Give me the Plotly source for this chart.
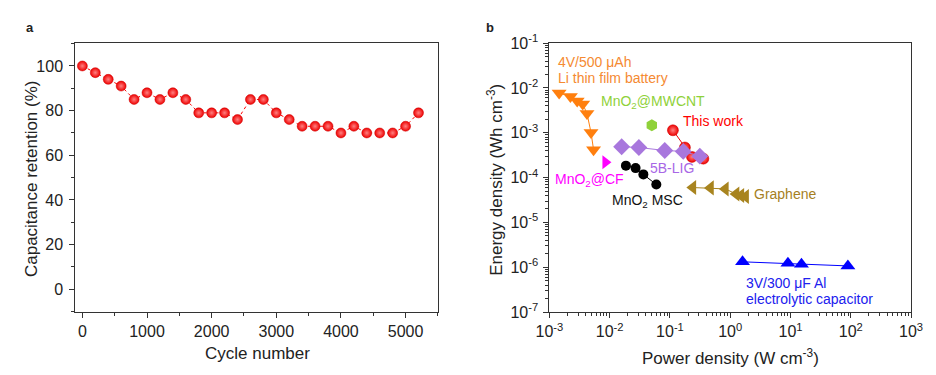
import plotly.graph_objects as go

# ---------- Panel a data ----------
cycles = [0, 200, 400, 600, 800, 1000, 1200, 1400, 1600, 1800, 2000, 2200, 2400,
          2600, 2800, 3000, 3200, 3400, 3600, 3800, 4000, 4200, 4400, 4600, 4800, 5000, 5200]
retention = [100, 97, 94, 91, 85, 88, 85, 88, 85, 79, 79, 79, 76,
             85, 85, 79, 76, 73, 73, 73, 70, 73, 70, 70, 70, 73, 79]

# ---------- Panel b data (Ragone) ----------
li_x = [0.00145, 0.00223, 0.00289, 0.00357, 0.0042, 0.0049, 0.0054]
li_y = [0.0077, 0.0065, 0.0051, 0.0044, 0.0027, 0.00102, 0.00042]
cf_x = [0.0085]
cf_y = [0.00022]
mw_x = [0.050]
mw_y = [0.00148]
tw_x = [0.112, 0.177, 0.232, 0.358]
tw_y = [0.00114, 0.00047, 0.00029, 0.000265]
lig_x = [0.0158, 0.0305, 0.082, 0.166, 0.313]
lig_y = [0.00049, 0.00047, 0.000403, 0.000385, 0.000301]
msc_x = [0.0186, 0.0269, 0.0362, 0.0594]
msc_y = [0.000185, 0.000163, 0.000118, 0.00007]
gr_x = [0.24, 0.47, 0.83, 1.25, 1.5, 1.8]
gr_y = [6.0e-5, 5.9e-5, 5.6e-5, 4.3e-5, 4.0e-5, 3.8e-5]
al_x = [1.6, 9.06, 15.2, 89.5]
al_y = [1.32e-6, 1.22e-6, 1.16e-6, 1.07e-6]

xb_tickvals = [1e-3, 1e-2, 1e-1, 1e0, 1e1, 1e2, 1e3]
xb_ticktext = ["10<sup>-3</sup>", "10<sup>-2</sup>", "10<sup>-1</sup>", "10<sup>0</sup>",
               "10<sup>1</sup>", "10<sup>2</sup>", "10<sup>3</sup>"]
yb_tickvals = [1e-7, 1e-6, 1e-5, 1e-4, 1e-3, 1e-2, 1e-1]
yb_ticktext = ["10<sup>-7</sup>", "10<sup>-6</sup>", "10<sup>-5</sup>", "10<sup>-4</sup>",
               "10<sup>-3</sup>", "10<sup>-2</sup>", "10<sup>-1</sup>"]

FONT = "Liberation Sans, Arial, sans-serif"
W, H = 936, 375

fig = go.Figure()

# Panel a
fig.add_trace(go.Scatter(
    x=cycles, y=retention, mode="lines+markers", xaxis="x", yaxis="y",
    line=dict(color="#FF0000", width=1, dash="dot"),
    marker=dict(size=10, color="#EE0000", line=dict(color="#CC0000", width=0.5),
                gradient=dict(type="radial", color="#FF8080")),
    showlegend=False))

# Panel b
def add_b(x, y, symbol, color, size, line=True, gradient=None, lcolor=None):
    m = dict(symbol=symbol, size=size, color=color, line=dict(width=0))
    if gradient:
        m["gradient"] = dict(type="radial", color=gradient)
        m["line"] = dict(color="#CC0000", width=0.5)
    fig.add_trace(go.Scatter(
        x=x, y=y, mode="lines+markers" if line else "markers",
        xaxis="x2", yaxis="y2",
        line=dict(color=lcolor or color, width=1),
        marker=m, showlegend=False))

add_b(li_x, li_y, "triangle-down", "#FF7F0E", 13)
add_b(cf_x, cf_y, "triangle-right", "#FF00FF", 12, line=False)
add_b(mw_x, mw_y, "hexagon", "#8FD13A", 12, line=False)
add_b(msc_x, msc_y, "circle", "#000000", 10)
add_b(gr_x, gr_y, "triangle-left", "#A8841F", 13)
add_b(al_x, al_y, "triangle-up", "#0000FF", 13)
add_b(tw_x, tw_y, "circle", "#EE0000", 11, gradient="#FF8080")
add_b(lig_x, lig_y, "diamond", "#A877DD", 13)

axis_common = dict(showline=True, linecolor="#333333", linewidth=1, mirror=True,
                   ticks="outside", ticklen=5, tickwidth=1, tickcolor="#333333",
                   showgrid=False, zeroline=False,
                   tickfont=dict(family=FONT, size=16, color="#222222"))

fig.update_layout(
    width=W, height=H, margin=dict(l=0, r=0, t=0, b=0),
    paper_bgcolor="white", plot_bgcolor="white",
    font=dict(family=FONT, color="#222222"),
    xaxis=dict(domain=[63 / W, 436 / W], range=[-110, 5500], anchor="y",
               tickvals=[0, 1000, 2000, 3000, 4000, 5000],
               minor=dict(tickvals=[500, 1500, 2500, 3500, 4500, 5500], ticklen=3, ticks="outside",
                          tickcolor="#333333"),
               **axis_common),
    yaxis=dict(domain=[1 - 318 / H, 1 - 34 / H], range=[-10.2, 110.2], anchor="x",
               tickvals=[0, 20, 40, 60, 80, 100], ticklabelstandoff=3,
               minor=dict(tickvals=[-10, 10, 30, 50, 70, 90, 110], ticklen=3, ticks="outside",
                          tickcolor="#333333"),
               **axis_common),
    xaxis2=dict(domain=[550.7 / W, 922.7 / W], type="log", range=[-3, 3], anchor="y2",
                tickvals=xb_tickvals, ticktext=xb_ticktext,
                minor=dict(ticks="outside", ticklen=3, tickcolor="#333333", dtick="D1"),
                **axis_common),
    yaxis2=dict(domain=[1 - 318 / H, 1 - 34 / H], type="log", range=[-7, -1], anchor="x2",
                tickvals=yb_tickvals, ticktext=yb_ticktext, ticklabelstandoff=2,
                minor=dict(ticks="outside", ticklen=3, tickcolor="#333333", dtick="D1"),
                **axis_common),
)

def ann(text, x, y, color="#222222", size=14, xanchor="left", angle=0, bold=False):
    fig.add_annotation(text=f"<b>{text}</b>" if bold else text,
                       x=x / W, y=1 - y / H, xref="paper", yref="paper",
                       xanchor=xanchor, yanchor="middle", showarrow=False,
                       textangle=angle,
                       font=dict(family=FONT, size=size, color=color))

# panel letters
ann("a", 10, 17, size=13, bold=True)
ann("b", 483, 17, size=13, bold=True)

# axis titles
ann("Capacitance retention (%)", 18, 177, size=17, xanchor="center", angle=-90)
ann("Cycle number", 250, 362, size=17, xanchor="center")
ann("Energy density (Wh cm<sup>-3</sup>)", 494, 178, size=17, xanchor="center", angle=-90)
ann("Power density (W cm<sup>-3</sup>)", 737, 366, size=17, xanchor="center")

# series labels
ann("4V/500 μAh", 557, 54, color="#F58A32")
ann("Li thin film battery", 557, 71, color="#F58A32")
ann("MnO<sub>2</sub>@MWCNT", 602, 96, color="#8FD13A")
ann("This work", 686, 116, color="#FF0000")
ann("5B-LIG", 652, 166, color="#A867E6")
ann("MnO<sub>2</sub>@CF", 554, 179, color="#FF00FF")
ann("MnO<sub>2</sub> MSC", 613, 201, color="#111111")
ann("Graphene", 759, 193, color="#A67F1E")
ann("3V/300 μF Al", 751, 287, color="#2020EE")
ann("electrolytic capacitor", 751, 304, color="#2020EE")

fig.write_html("out.html")
